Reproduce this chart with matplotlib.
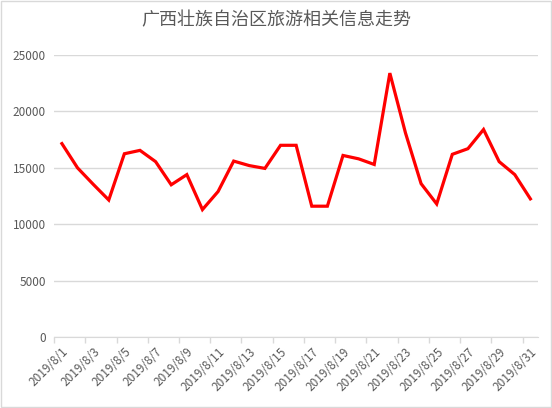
import matplotlib
matplotlib.use('Agg')
from matplotlib import pyplot as plt
import numpy as np

plt.rcParams['font.family'] = ['Noto Sans CJK SC', 'DejaVu Sans']

# ---------------------------- Data ---------------------------- #

title = '广西壮族自治区旅游相关信息走势'
dates = ['2019/8/%d' % d for d in range(1, 32)]
visits = [17150, 15000, 13550, 12150, 16250, 16550, 15550, 13500, 14400, 11300,
          12900, 15600, 15200, 14950, 17000, 17000, 11600, 11600, 16100, 15800,
          15300, 23400, 18100, 13600, 11800, 16200, 16700, 18400, 15550, 14400,
          12250]
y_ticks = [0, 5000, 10000, 15000, 20000, 25000]

# ---------------------------- Plot ---------------------------- #

grey_text = '#595959'
grid_col = '#d9d9d9'

fig = plt.figure(figsize=(5.52, 4.08), dpi=100)
ax = fig.add_axes([0.098, 0.174, 0.877, 0.691])

positions = np.arange(len(dates))
ax.plot(positions, visits, color='#ff0000', lw=2.3, solid_joinstyle='miter')

ax.set_xlim(-0.5, len(dates) - 0.5)
ax.set_ylim(y_ticks[0], y_ticks[-1])
ax.set_yticks(y_ticks)
ax.set_yticklabels([str(v) for v in y_ticks])
ax.yaxis.grid(True, color=grid_col, lw=1)
ax.set_axisbelow(True)

# labels on every other category, tick marks between categories
ax.set_xticks(positions[::2])
ax.set_xticklabels(dates[::2], rotation=45, ha='right', rotation_mode='anchor')
ax.set_xticks(np.arange(-0.5, len(dates) - 1, 2), minor=True)
ax.tick_params(axis='x', which='major', length=0, pad=6, labelsize=8.5, colors=grey_text)
ax.tick_params(axis='x', which='minor', length=4, color=grid_col, width=1)
ax.tick_params(axis='y', length=0, labelsize=8.5, colors=grey_text, pad=6)

for side in ['top', 'right', 'left']:
    ax.spines[side].set_visible(False)
ax.spines['bottom'].set_color(grid_col)

fig.text(0.5, 0.95, title, ha='center', va='center', fontsize=13, color=grey_text)

# light border around the chart
fig.patches.append(plt.Rectangle((0.002, 0.002), 0.996, 0.996, transform=fig.transFigure,
                                 fill=False, edgecolor='#d9d9d9', lw=1))

fig.savefig('out.png', dpi=100)
